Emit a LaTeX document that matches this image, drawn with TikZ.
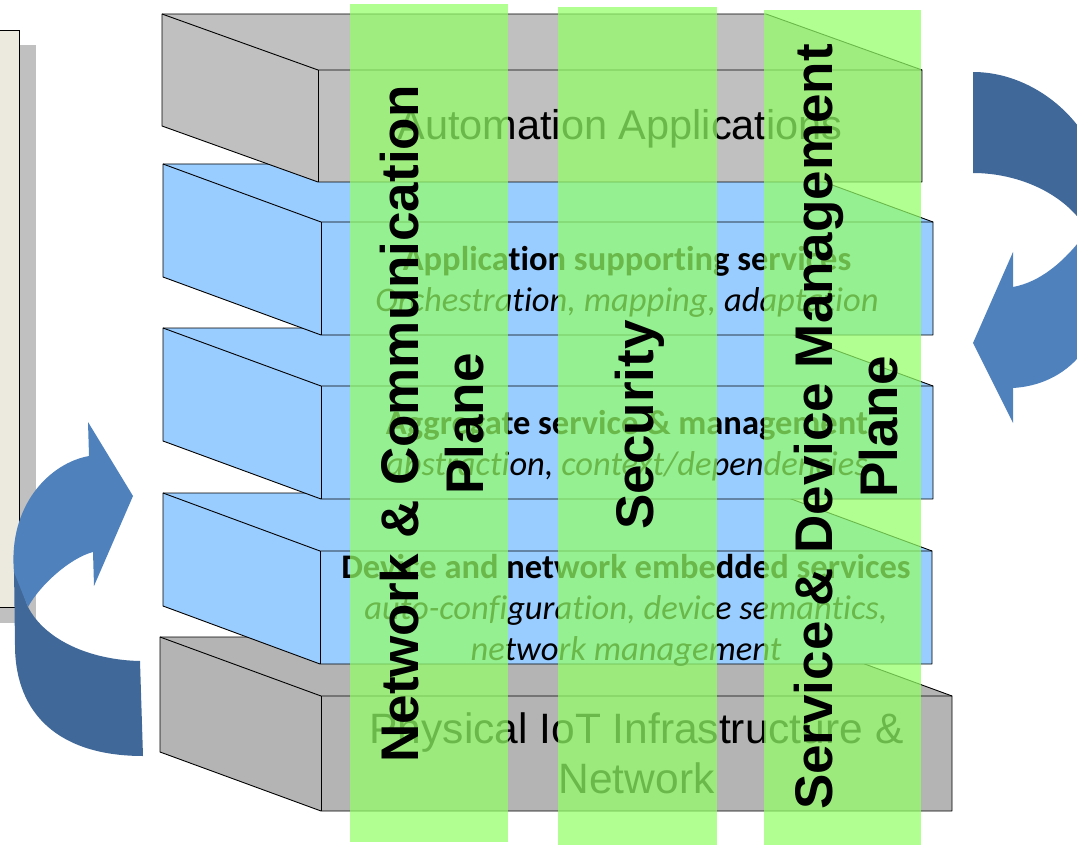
\documentclass[tikz,border=0pt]{standalone}
\usepackage{fontspec}
\newfontfamily\arialf{Liberation Sans}
\newfontfamily\calf[Ligatures=NoCommon]{Carlito}

\definecolor{slabgray}{RGB}{192,192,192}
\definecolor{slabgraydk}{RGB}{180,180,180}
\definecolor{slabblue}{RGB}{153,204,255}
\definecolor{bandgreen}{RGB}{147,255,103}
\definecolor{arrowlt}{RGB}{79,129,189}
\definecolor{arrowdk}{RGB}{64,104,152}
\definecolor{paper}{RGB}{236,233,223}
\definecolor{papershadow}{RGB}{192,192,192}

\tikzset{
  edge/.style={draw=black, line width=0.9pt, line join=round},
  band/.style={fill=bandgreen, fill opacity=0.72},
  plane/.style={rotate=90, align=center, inner sep=0pt,
    font=\arialf\bfseries\fontsize{53}{65}\selectfont, text=black},
  layertitle/.style={align=center, inner sep=0pt,
    font=\arialf\fontsize{41.5}{50}\selectfont},
  svc/.style={align=center, inner sep=0pt,
    font=\calf\fontsize{34.5}{41}\selectfont},
}

% one layer of the stack: a sheared slab with visible top, left and front faces
% #1 name, #2 colour, #3/#4 back-left corner, #5/#6 front-left corner, #7 width, #8 height
\newcommand\slab[8]{%
  \fill[#2] (#3,#4) -- ({#3+#7},#4) -- ({#5+#7},#6) -- ({#5+#7},{#6+#8})
    -- (#5,{#6+#8}) -- (#3,{#4+#8}) -- cycle;
  \draw[edge] (#3,#4) -- ({#3+#7},#4) -- ({#5+#7},#6) -- ({#5+#7},{#6+#8})
    -- (#5,{#6+#8}) -- (#3,{#4+#8}) -- cycle;
  \draw[edge] (#3,#4) -- (#5,#6) -- ({#5+#7},#6);
  \draw[edge] (#5,#6) -- (#5,{#6+#8});
  \coordinate (#1) at ({#5+#7/2},{#6+#8/2});
}

\begin{document}
\begin{tikzpicture}[x=1pt,y=-1pt]
\useasboundingbox (0,0) rectangle (1077,845);

% side panel with its drop shadow
\fill[papershadow] (-5,45) rectangle (36,623);
\filldraw[fill=paper, draw=black, line width=1pt] (-5,31) rectangle (19,607);

% curved arrow on the left (rising towards the stack)
\fill[arrowdk] (140,661) .. controls (90,660) and (45,640) .. (28,607)
  -- (14,568) -- (15,645) .. controls (15,715) and (60,756) .. (143,756) -- cycle;
\fill[arrowlt] (28,607) -- (14,572) .. controls (8,505) and (50,463) .. (89,456)
  -- (88,422) -- (133,496) -- (94,586) -- (93,552)
  .. controls (70,558) and (40,585) .. (28,607) -- cycle;

% curved arrow on the right (descending towards the stack)
\fill[arrowdk] (973,173) .. controls (1020,173) and (1068,195) .. (1088,232)
  -- (1105,265) -- (1103,190) .. controls (1100,130) and (1040,72) .. (973,72) -- cycle;
\fill[arrowlt] (1088,230) .. controls (1065,262) and (1040,282) .. (1013,287)
  -- (1013,252) -- (973,343) -- (1013,423) -- (1013,388)
  .. controls (1065,385) and (1110,345) .. (1106,262) -- cycle;

% layer stack, bottom to top
\slab{infra}{slabgraydk}{160}{637}{321}{696}{631}{115}
\slab{embedded}{slabblue}{163}{493}{320}{551}{612}{113}
\slab{aggregate}{slabblue}{163}{328}{321}{386}{612}{113}
\slab{support}{slabblue}{163}{164}{321}{222}{612}{113}
\slab{apps}{slabgray}{162}{14}{318}{70}{604}{112}

\node[layertitle] (appsT) at ([yshift=-3pt]apps) {Automation Applications};
\node[svc] (supportT) at ([yshift=-3pt]support)
  {\textbf{Application supporting services}\\\textit{Orchestration, mapping, adaptation}};
\node[svc] (aggregateT) at ([yshift=-3pt]aggregate)
  {\textbf{Aggregate service \& management}\\\textit{abstraction, context/dependencies}};
\node[svc] (embeddedT) at ([yshift=-3pt]embedded)
  {\textbf{Device and network embedded services}\\\textit{auto-configuration, device semantics,}\\\textit{network management}};
\node[layertitle, font=\arialf\fontsize{42.5}{50}\selectfont] (infraT) at (infra)
  {Physical IoT Infrastructure \&\\Network};

% cross-cutting planes
\fill[band] (350,4) rectangle (508,842);
\fill[band] (558,7) rectangle (717,846);
\fill[band] (764,10) rectangle (921,846);

\node[plane] (ncp) at (432,424) {Network \& Communication\\Plane};
\node[plane] (sec) at (640,425) {Security};
\node[plane] (sdm) at (846,427) {Service \& Device Management\\Plane};
\end{tikzpicture}
\end{document}
